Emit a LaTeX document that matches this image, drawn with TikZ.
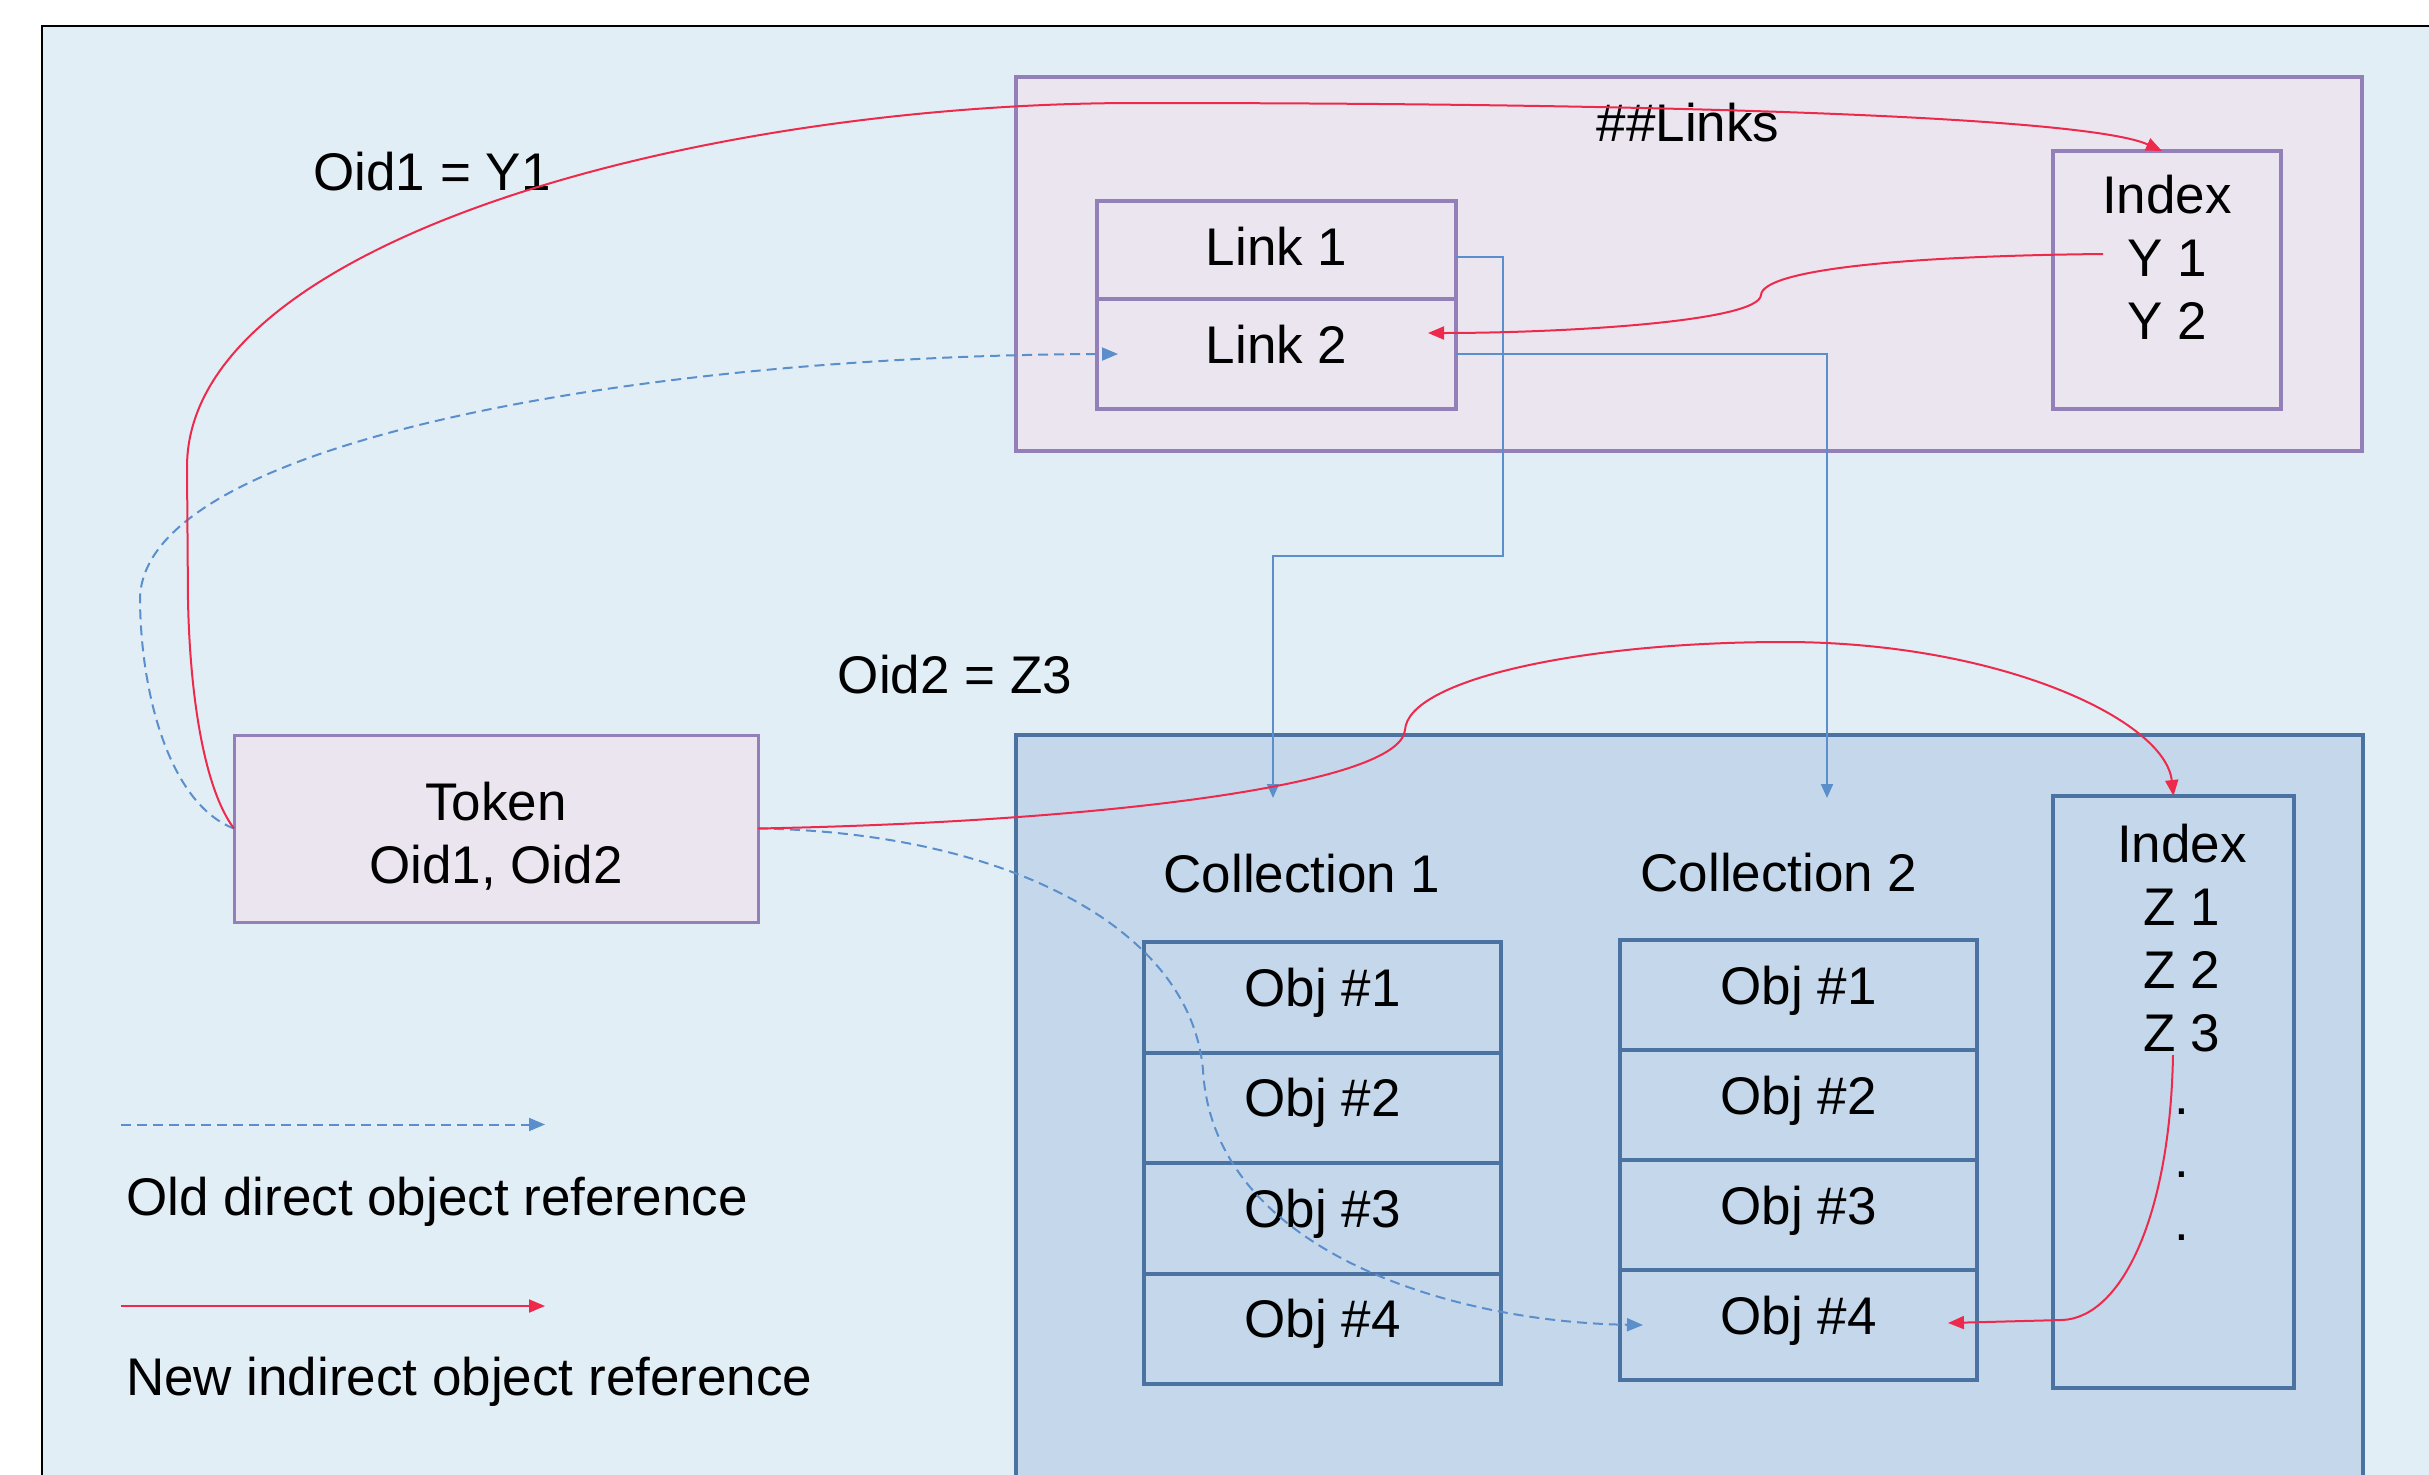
\documentclass[tikz,border=0pt]{standalone}
\usepackage{fontspec}
\setmainfont{Liberation Sans}
\usetikzlibrary{arrows.meta}
\definecolor{bgc}{HTML}{E1EEF6}
\definecolor{lav}{HTML}{EBE5F0}
\definecolor{purp}{HTML}{9380B8}
\definecolor{colfill}{HTML}{C5D8EB}
\definecolor{colbord}{HTML}{4A73A2}
\definecolor{conn}{HTML}{5B8FCB}
\definecolor{redc}{HTML}{EE2A4C}
\begin{document}
\begin{tikzpicture}[x=1pt,y=-1pt,
  every node/.style={font=\fontsize{53}{63}\selectfont, inner sep=0pt, outer sep=0pt},
  purbox/.style={draw=purp, fill=lav, line width=4pt},
  colbox/.style={draw=colbord, fill=colfill, line width=4.5pt},
  objrow/.style={draw=colbord, line width=4pt, minimum width=357pt, text height=38pt, text depth=20pt},
  redarrow/.style={draw=redc, line width=2pt, -{Triangle[length=16pt,width=13pt]}},
  bluearrow/.style={draw=conn, line width=2pt, -{Triangle[length=14pt,width=12pt]}},
  olddash/.style={draw=conn, line width=2pt, dash pattern=on 10pt off 6pt, -{Triangle[length=16pt,width=13pt]}}
]
\useasboundingbox (0,0) rectangle (2429,1475);
\clip (0,0) rectangle (2429,1475);
\fill[white] (0,0) rectangle (2429,1475);
\draw[black, line width=2.5pt, fill=bgc] (42,26) rectangle (2480,1530);

% ##Links area
\node[purbox, minimum width=1346pt, minimum height=374pt] (links) at (1689,264) {};
\node[anchor=base] (linkstitle) at (1688,141) {\#\#Links};
\node[purbox, minimum width=359pt, minimum height=98pt, text height=38pt, text depth=8pt] (link1) at (1276.5,250) {Link 1};
\node[purbox, minimum width=359pt, minimum height=110pt, text height=38pt, text depth=20pt] (link2) at (1276.5,354) {Link 2};
\node[purbox, minimum width=228pt, minimum height=258pt] (idxy) at (2167,280) {};
\node[anchor=north, align=center] (idxytext) at (2167,175) {Index\\Y 1\\Y 2};
\coordinate (y1) at (2103,254);

% labels
\node[anchor=base] (oid1) at (432,190) {Oid1 = Y1};
\node[anchor=base] (oid2) at (955,693) {Oid2 = Z3};

% Token
\node[purbox, line width=3pt, minimum width=524pt, minimum height=187pt] (token) at (496,828.5) {};
\node[anchor=north, align=center] (tokentext) at (496,782) {Token\\Oid1, Oid2};

% Collections
\node[colbox, minimum width=1347pt, minimum height=820pt, anchor=north west] (coll) at (1016,735) {};
\node[anchor=base] (coll1) at (1302,892) {Collection 1};
\node[anchor=base] (coll2) at (1779,891) {Collection 2};

\node[objrow, minimum height=110.5pt] (c1r1) at (1322.5,997.25) {Obj \#1};
\node[objrow, minimum height=110.5pt] (c1r2) at (1322.5,1107.75) {Obj \#2};
\node[objrow, minimum height=110.5pt] (c1r3) at (1322.5,1218.25) {Obj \#3};
\node[objrow, minimum height=110.5pt] (c1r4) at (1322.5,1328.75) {Obj \#4};

\node[objrow, minimum height=110pt] (c2r1) at (1798.5,995) {Obj \#1};
\node[objrow, minimum height=110pt] (c2r2) at (1798.5,1105) {Obj \#2};
\node[objrow, minimum height=110pt] (c2r3) at (1798.5,1215) {Obj \#3};
\node[objrow, minimum height=110pt] (c2r4) at (1798.5,1325) {Obj \#4};

\node[draw=colbord, line width=4pt, minimum width=241pt, minimum height=592pt] (idxz) at (2173.5,1092) {};
\node[anchor=north, align=center] (idxztext) at (2182,824) {Index\\Z 1\\Z 2\\Z 3\\.\\.\\.};
\coordinate (z3) at (2173,1055);

\coordinate (c1in) at (1273,798);
\coordinate (c2in) at (1827,798);

% blue solid links
\draw[bluearrow] ([yshift=-7pt]link1.east) -| (1503,556) -| (c1in);
\draw[bluearrow] (link2.east) -| (c2in);

% old direct references
\draw[olddash] (token.west) .. controls (172,805) and (141,700) .. (140,600)
  .. controls (140,440) and (650,355) .. ([xshift=21pt]link2.west);
\draw[olddash] (token.east) .. controls (1000,832) and (1190,925) .. (1203,1070)
  .. controls (1213,1250) and (1450,1322) .. ([xshift=23pt]c2r4.west);

% new indirect references
\draw[redarrow] (token.west) .. controls (205,790) and (190,700) .. (188,600) -- (187,467)
  .. controls (187,240) and (700,103) .. (1137,103)
  .. controls (1700,103) and (2090,118) .. ([xshift=-5pt]idxy.north);
\draw[redarrow] (y1) .. controls (1900,256) and (1763,270) .. (1761,295)
  .. controls (1759,322) and (1560,333) .. ([xshift=-28pt,yshift=21pt]link2.east);
\draw[redarrow] (token.east) .. controls (1100,822) and (1400,785) .. (1405,730)
  .. controls (1408,680) and (1580,642) .. (1784,642)
  .. controls (2000,642) and (2165,720) .. (idxz.north);
\draw[redarrow] (z3) .. controls (2170,1220) and (2120,1318) .. (2062,1320) -- ([xshift=-29pt,yshift=2pt]c2r4.east);

% legend
\coordinate (l1a) at (121,1124.5);
\coordinate (l1b) at (545,1124.5);
\draw[olddash] (l1a) -- (l1b);
\node[anchor=base west] (l1t) at (126,1215) {Old direct object reference};
\coordinate (l2a) at (121,1306);
\coordinate (l2b) at (545,1306);
\draw[redarrow] (l2a) -- (l2b);
\node[anchor=base west] (l2t) at (126,1395) {New indirect object reference};
\end{tikzpicture}
\end{document}
